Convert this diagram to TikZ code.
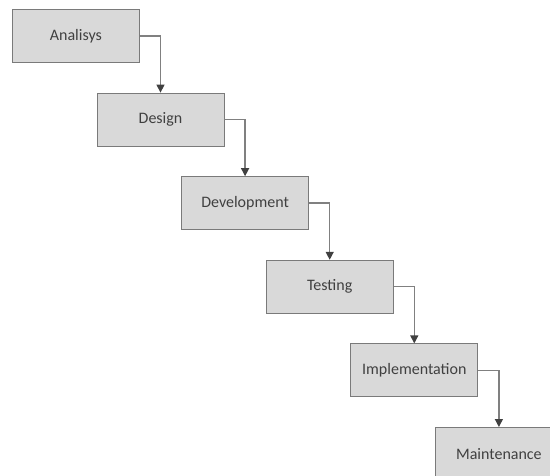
\documentclass[tikz,border=0pt]{standalone}
\usepackage{fontspec}
\setmainfont{Carlito}
\usepackage{xcolor}
\usepackage{tikz}
\usetikzlibrary{arrows.meta, positioning}

\definecolor{boxfill}{HTML}{D9D9D9}
\definecolor{boxline}{HTML}{7A7A7A}
\definecolor{textgray}{HTML}{404040}
\definecolor{linkgray}{HTML}{808080}

\begin{document}
\begin{tikzpicture}[x=1pt, y=1pt, node distance=29.8pt and -43.2pt,
    phase/.style={draw=boxline, fill=boxfill, rectangle, line width=0.8pt,
      minimum width=127pt, minimum height=53pt, inner sep=0pt,
      text=textgray, font=\fontsize{16}{19}\selectfont},
    link/.style={draw=linkgray, line width=1.3pt,
      -{Triangle[length=8pt, width=8pt, color=textgray]}}]
    \clip (0,0) rectangle (550,-475);

    % waterfall steps
    \node[phase, anchor=north west] (analysis) at (12,-9) {Analisys};
    \node[phase, below right=of analysis] (design) {Design};
    \node[phase, below right=of design] (development) {Development};
    \node[phase, below right=of development] (testing) {Testing};
    \node[phase, below right=of testing] (implementation) {Implementation};
    \node[phase, below right=of implementation] (maintenance) {Maintenance};

    % connectors from one step to the next
    \draw[link] (analysis.east) -| (design.north);
    \draw[link] (design.east) -| (development.north);
    \draw[link] (development.east) -| (testing.north);
    \draw[link] (testing.east) -| (implementation.north);
    \draw[link] (implementation.east) -| (maintenance.north);
  \end{tikzpicture}
\end{document}
